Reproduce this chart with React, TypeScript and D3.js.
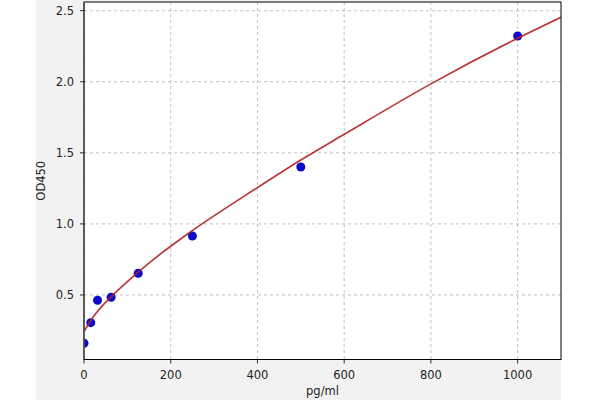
import React from "react";
import * as d3 from "d3";

const concentrations = [0, 15.6, 31.25, 62.5, 125, 250, 500, 1000];
const odValues = [0.16, 0.305, 0.463, 0.484, 0.653, 0.915, 1.4, 2.322];

const curveX = [0, 15.6, 31.25, 62.5, 125, 175, 250, 400, 500, 600, 800, 1000, 1100];
const curveY = [0.242, 0.32, 0.385, 0.487, 0.66, 0.785, 0.953, 1.255, 1.449, 1.63, 1.985, 2.306, 2.454];

const xTicks = [0, 200, 400, 600, 800, 1000];
const yTicks = [0.5, 1.0, 1.5, 2.0, 2.5];

export default function App() {
  const W = 600, H = 400;
  const left = 84, right = 561, top = 2, bottom = 359.5;
  const x = d3.scaleLinear().domain([0, 1100]).range([left, right]);
  const y = d3.scaleLinear().domain([0.046, 2.561]).range([bottom, top]);
  const line = d3
    .line<number>()
    .x((_, i) => x(curveX[i]))
    .y((d) => y(d))
    .curve(d3.curveMonotoneX);
  const font = "DejaVu Sans, sans-serif";
  return (
    <svg
      width={W}
      height={H}
      style={{ position: "absolute", left: 0, top: 0 }}
      fontFamily={font}
    >
      <rect x={0} y={0} width={W} height={H} fill="#ffffff" />
      <rect x={36} y={0} width={right - 36} height={H} fill="#f2f2f2" />
      <rect x={left} y={top} width={right - left} height={bottom - top} fill="#ffffff" />
      <defs>
        <clipPath id="plot">
          <rect x={left} y={top} width={right - left} height={bottom - top} />
        </clipPath>
      </defs>
      {xTicks.map((t) => (
        <line
          key={"gx" + t}
          x1={x(t)}
          x2={x(t)}
          y1={top}
          y2={bottom}
          stroke="#b0b0b0"
          strokeWidth={0.8}
          strokeDasharray="3,3"
        />
      ))}
      {yTicks.map((t) => (
        <line
          key={"gy" + t}
          x1={left}
          x2={right}
          y1={y(t)}
          y2={y(t)}
          stroke="#b0b0b0"
          strokeWidth={0.8}
          strokeDasharray="3,3"
        />
      ))}
      <g clipPath="url(#plot)">
        {concentrations.map((c, i) => (
          <circle key={"p" + i} cx={x(c)} cy={y(odValues[i])} r={4.5} fill="#0a0acc" />
        ))}
        <path d={line(curveY) || ""} fill="none" stroke="#b02222" strokeWidth={1.7} strokeOpacity={0.9} />
      </g>
      <rect
        x={left}
        y={top}
        width={right - left}
        height={bottom - top}
        fill="none"
        stroke="#000"
        strokeWidth={1}
      />
      <line x1={left} x2={left} y1={top} y2={bottom} stroke="#555" strokeWidth={1.6} />
      {xTicks.map((t) => (
        <g key={"xt" + t}>
          <line x1={x(t)} x2={x(t)} y1={bottom} y2={bottom + 4} stroke="#000" strokeWidth={0.8} />
          <text x={x(t)} y={379} textAnchor="middle" fontSize={11.5} fill="#222">
            {t}
          </text>
        </g>
      ))}
      {yTicks.map((t) => (
        <g key={"yt" + t}>
          <line x1={left - 4} x2={left} y1={y(t)} y2={y(t)} stroke="#000" strokeWidth={0.8} />
          <text x={74} y={y(t)} dy="0.36em" textAnchor="end" fontSize={11.5} fill="#222">
            {t.toFixed(1)}
          </text>
        </g>
      ))}
      <text x={(left + right) / 2} y={395} textAnchor="middle" fontSize={11.5} fill="#222">
        pg/ml
      </text>
      <text
        transform={`translate(45, ${(top + bottom) / 2}) rotate(-90)`}
        textAnchor="middle"
        fontSize={11.5}
        fill="#222"
      >
        OD450
      </text>
    </svg>
  );
}
